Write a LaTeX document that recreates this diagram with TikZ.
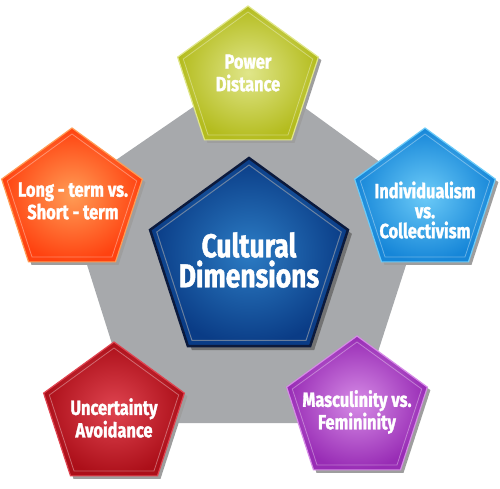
\documentclass[tikz,border=0pt]{standalone}
\usepackage{fontspec}
\newfontfamily\dimfont{Fira Sans}[FakeStretch=0.8, BoldFeatures={FakeBold=1.4}]
\usetikzlibrary{shapes.geometric}

\definecolor{graybg}{HTML}{A7A9AC}
\definecolor{pdcol}{HTML}{B4BC1E}
\definecolor{pdlight}{HTML}{E0E68A}
\definecolor{ltcol}{HTML}{FF4210}
\definecolor{ltlight}{HTML}{FF9C55}
\definecolor{iccol}{HTML}{1686D8}
\definecolor{iclight}{HTML}{6CCBF8}
\definecolor{uacol}{HTML}{AC0F19}
\definecolor{ualight}{HTML}{DF4450}
\definecolor{mvcol}{HTML}{982CB5}
\definecolor{mvlight}{HTML}{D68BE6}
\definecolor{cdcol}{HTML}{0A3C86}
\definecolor{cdlight}{HTML}{2C7CC4}
\definecolor{cddark}{HTML}{0C1A3C}

\tikzset{
  penta/.style={regular polygon, regular polygon sides=5, inner sep=0pt, minimum size=148pt},
  pshadow/.style={penta, fill=black!38},
  pface/.style 2 args={penta, shading=radial, inner color=#1, outer color=#2, draw=#1, line width=1.2pt},
  pbevel/.style={penta, minimum size=136pt, draw=white, draw opacity=0.35, line width=0.8pt},
  dimtext/.style={font=\dimfont\bfseries\fontsize{20.5}{22.5}\selectfont, align=center, text=white},
}

\begin{document}
\begin{tikzpicture}[x=1pt,y=-1pt]
\useasboundingbox (0,0) rectangle (500,488);
% grey backdrop
\fill[graybg] (250,68) -- (428,197) -- (355,423) -- (137,423) -- (65,195) -- cycle;

% centre
\node[penta, minimum size=208pt, fill=black!55] (cdshadow) at (253,266) {};
\node[penta, minimum size=208pt, shading=radial, inner color=cdlight, outer color=cdcol, draw=cddark, line width=2.5pt] (cd) at (249,262) {};
\node[penta, minimum size=194pt, draw=graybg, draw opacity=0.6, line width=1pt] (cdbevel) at (249,262) {};
\node[dimtext, font=\dimfont\bfseries\fontsize{33}{30}\selectfont] (cdtext) at (249,260) {Cultural\\Dimensions};

% power distance
\node[pshadow] (pdshadow) at (251,83) {};
\node[pface={pdlight}{pdcol}] (pd) at (248,80) {};
\node[pbevel] (pdbevel) at (248,80) {};
\node[dimtext] (pdtext) at (248,73) {Power\\Distance};

% long-term
\node[pshadow] (ltshadow) at (75,205) {};
\node[pface={ltlight}{ltcol}] (lt) at (72,202) {};
\node[pbevel] (ltbevel) at (72,202) {};
\node[dimtext] (lttext) at (73,201) {Long - term vs.\\Short - term};

% individualism
\node[pshadow] (icshadow) at (428,205) {};
\node[pface={iclight}{iccol}] (ic) at (425,202) {};
\node[pbevel] (icbevel) at (425,202) {};
\node[dimtext, font=\dimfont\bfseries\fontsize{20.5}{20}\selectfont] (ictext) at (425,210) {Individualism\\vs.\\Collectivism};

% uncertainty
\node[pshadow] (uashadow) at (117,419) {};
\node[pface={ualight}{uacol}] (ua) at (114,416) {};
\node[pbevel] (uabevel) at (114,416) {};
\node[dimtext] (uatext) at (114,418) {Uncertainty\\Avoidance};

% masculinity
\node[pshadow] (mvshadow) at (360,413) {};
\node[pface={mvlight}{mvcol}] (mv) at (357,410) {};
\node[pbevel] (mvbevel) at (357,410) {};
\node[dimtext] (mvtext) at (357,412) {Masculinity vs.\\Femininity};
\end{tikzpicture}
\end{document}
